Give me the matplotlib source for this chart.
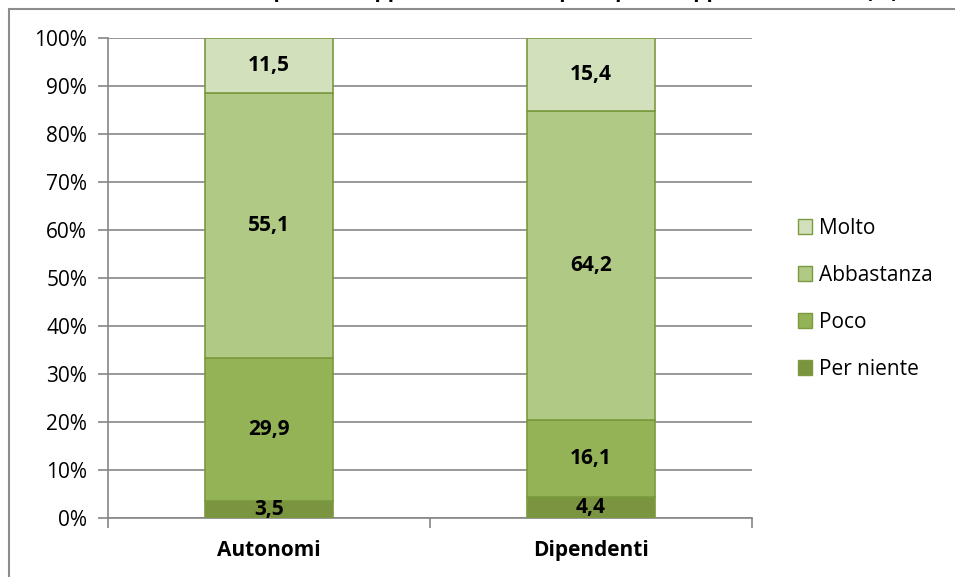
import matplotlib
matplotlib.use("Agg")
import matplotlib.pyplot as plt
from matplotlib.patches import Rectangle, Patch
import numpy as np

categories = ["Autonomi", "Dipendenti"]
series_names = ["Per niente", "Poco", "Abbastanza", "Molto"]
per_niente = [3.5, 4.4]
poco = [29.9, 16.1]
abbastanza = [55.1, 64.2]
molto = [11.5, 15.4]
yticks = [0, 10, 20, 30, 40, 50, 60, 70, 80, 90, 100]
title = "Grado di utilizzo delle competenze apprese nel lavoro per tipo di rapporto di lavoro (%)"

colors = ["#7A9440", "#94B356", "#B0C984", "#D3E0BC"]
edge = "#7B9A3E"

plt.rcParams['font.family'] = ['Open Sans', 'DejaVu Sans']

W, H = 955, 577
fig = plt.figure(figsize=(W/100, H/100), dpi=100)
ax = fig.add_axes([108/W, 1-518/H, (752-108)/W, (518-38)/H])

# chart frame
fig.patches.append(Rectangle((9/W, -0.05), 1.2, (1-9/H)+0.05, transform=fig.transFigure,
                             fill=False, edgecolor="#8C8C8C", linewidth=1.5))
fig.text(0.0, 1+3/H, title, ha="left", va="baseline", fontsize=15, fontweight="bold")

x = np.arange(len(categories))
data = [per_niente, poco, abbastanza, molto]
bottom = np.zeros(len(categories))
for name, vals, c in zip(series_names, data, colors):
    vals = np.array(vals)
    ax.bar(x, vals, 0.4, bottom=bottom, color=c, edgecolor=edge, linewidth=1.2, zorder=3, label=name)
    for xi, b, v in zip(x, bottom, vals):
        ax.text(xi, b + v/2, f"{v:.1f}".replace(".", ","), ha="center", va="center",
                fontsize=15, fontweight="bold", zorder=4)
    bottom += vals

ax.set_xlim(-0.5, len(categories)-0.5)
ax.set_ylim(0, 100)
ax.set_yticks(yticks)
ax.set_yticklabels([f"{t}%" for t in yticks], fontsize=15)
ax.set_xticks(x)
ax.set_xticklabels(categories, fontsize=15, fontweight="bold")
ax.tick_params(axis="x", length=0, pad=16)
ax.set_xticks([-0.5, 0.5, 1.5], minor=True)
ax.tick_params(axis="x", which="minor", length=7, color="#868686", width=1.2)
ax.tick_params(axis="y", length=7, color="#868686", width=1.2, pad=8)
ax.grid(axis="y", color="#868686", linewidth=1.2, zorder=0)
for s in ["top", "right"]:
    ax.spines[s].set_visible(False)
for s in ["left", "bottom"]:
    ax.spines[s].set_color("#868686")
    ax.spines[s].set_linewidth(1.2)

handles = [Patch(facecolor=c, edgecolor=edge, label=n) for n, c in zip(series_names, colors)][::-1]
fig.legend(handles=handles, loc="center left", bbox_to_anchor=(779/W, 1-299/H), frameon=False,
           fontsize=15, handlelength=0.7, handleheight=0.7, handletextpad=0.3, labelspacing=1.25)

fig.savefig("out.png", dpi=100)
